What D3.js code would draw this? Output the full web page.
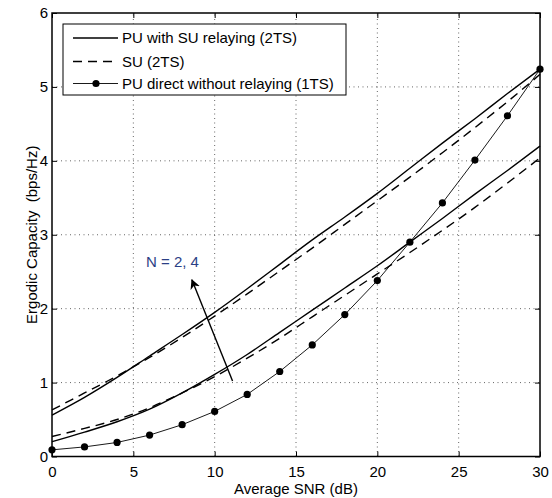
<!DOCTYPE html>
<html>
<head>
<meta charset="utf-8">
<script src="https://cdn.jsdelivr.net/npm/d3@7"></script>
<style>
  body { margin: 0; background: #fff; }
  svg { display: block; font-family: "Liberation Sans", Arial, sans-serif; }
</style>
</head>
<body>
<div id="chart"></div>
<script>
// values (x in dB, y in bps/Hz)
const snr = [0, 2, 4, 6, 8, 10, 12, 14, 16, 18, 20, 22, 24, 26, 28, 30]
const puRelayN4 = [0.56, 0.80, 1.07, 1.36, 1.65, 1.95, 2.27, 2.60, 2.93, 3.24, 3.56, 3.90, 4.24, 4.57, 4.91, 5.24]
const suN4 = [0.63, 0.86, 1.09, 1.34, 1.61, 1.90, 2.20, 2.51, 2.82, 3.14, 3.46, 3.78, 4.11, 4.45, 4.80, 5.17]
const puRelayN2 = [0.20, 0.33, 0.47, 0.64, 0.86, 1.11, 1.38, 1.68, 1.98, 2.28, 2.58, 2.90, 3.22, 3.55, 3.87, 4.20]
const suN2 = [0.27, 0.38, 0.50, 0.66, 0.86, 1.08, 1.33, 1.60, 1.89, 2.18, 2.47, 2.76, 3.06, 3.37, 3.70, 4.04]
const puDirect = [0.09, 0.13, 0.19, 0.29, 0.43, 0.61, 0.84, 1.15, 1.51, 1.92, 2.38, 2.90, 3.43, 4.01, 4.61, 5.24]

const xTicks = [0, 5, 10, 15, 20, 25, 30]
const yTicks = [0, 1, 2, 3, 4, 5, 6]
const legendLabels = ["PU with SU relaying (2TS)", "SU (2TS)", "PU direct without relaying (1TS)"]
const arrowFrom = [11.1, 1.02], arrowTo = [8.6, 2.39]
const annotation = "N = 2, 4"

const W = 552, H = 498
const m = {left: 52, right: 12, top: 13, bottom: 41.5}

var svg = d3.select("#chart").append("svg").attr("width", W).attr("height", H)

var x = d3.scaleLinear().domain([0, 30]).range([m.left, W - m.right])
var y = d3.scaleLinear().domain([0, 6]).range([H - m.bottom, m.top])

// dotted grid
var grid = svg.append("g").attr("stroke", "#666").attr("stroke-width", 1).attr("stroke-dasharray", "1,3.5")
grid.selectAll(".gx").data(xTicks.slice(1, -1)).enter().append("line")
    .attr("x1", d => x(d)).attr("x2", d => x(d)).attr("y1", y(0)).attr("y2", y(6))
grid.selectAll(".gy").data(yTicks.slice(1, -1)).enter().append("line")
    .attr("y1", d => y(d)).attr("y2", d => y(d)).attr("x1", x(0)).attr("x2", x(30))

// axes (ticks inward, matlab style)
svg.append("g").attr("transform", `translate(0,${y(0)})`)
    .call(d3.axisBottom(x).tickValues(xTicks).tickSizeInner(-5).tickSizeOuter(0).tickPadding(10).tickFormat(d3.format("d")))
svg.append("g").attr("transform", `translate(0,${y(6)})`)
    .call(d3.axisTop(x).tickValues(xTicks).tickSizeInner(-5).tickSizeOuter(0).tickFormat(""))
svg.append("g").attr("transform", `translate(${x(0)},0)`)
    .call(d3.axisLeft(y).tickValues(yTicks).tickSizeInner(-5).tickSizeOuter(0).tickPadding(4).tickFormat(d3.format("d")))
svg.append("g").attr("transform", `translate(${x(30)},0)`)
    .call(d3.axisRight(y).tickValues(yTicks).tickSizeInner(-5).tickSizeOuter(0).tickFormat(""))
svg.selectAll(".domain").remove()
svg.selectAll(".tick line").attr("stroke", "#000")
svg.selectAll(".tick text").attr("font-size", 15).attr("font-family", "Liberation Sans, Arial, sans-serif").attr("fill", "#000")

svg.append("rect").attr("x", x(0)).attr("y", y(6)).attr("width", x(30) - x(0)).attr("height", y(0) - y(6))
    .attr("fill", "none").attr("stroke", "#000").attr("stroke-width", 1.5)

// curves
var line = d3.line().x((d, i) => x(snr[i])).y(d => y(d)).curve(d3.curveMonotoneX)
var series = [
    {v: puRelayN4, dash: null}, {v: suN4, dash: "9,6"},
    {v: puRelayN2, dash: null}, {v: suN2, dash: "9,6"}
]
svg.append("g").selectAll("path").data(series).enter().append("path")
    .attr("d", d => line(d.v)).attr("fill", "none").attr("stroke", "#000")
    .attr("stroke-width", 1.4).attr("stroke-dasharray", d => d.dash)

var lineLin = d3.line().x((d, i) => x(snr[i])).y(d => y(d))
svg.append("path").attr("d", lineLin(puDirect)).attr("fill", "none").attr("stroke", "#000").attr("stroke-width", 0.9)
svg.append("g").selectAll("circle").data(puDirect).enter().append("circle")
    .attr("cx", (d, i) => x(snr[i])).attr("cy", d => y(d)).attr("r", 3.6).attr("fill", "#000")

// arrow + annotation
svg.append("defs").append("marker").attr("id", "ah").attr("viewBox", "0 0 10 10")
    .attr("refX", 9).attr("refY", 5).attr("markerWidth", 10).attr("markerHeight", 10)
    .attr("markerUnits", "userSpaceOnUse").attr("orient", "auto")
    .append("path").attr("d", "M0,0 L10,5 L0,10 L3,5 Z").attr("fill", "#000")
svg.append("line").attr("x1", x(arrowFrom[0])).attr("y1", y(arrowFrom[1]))
    .attr("x2", x(arrowTo[0])).attr("y2", y(arrowTo[1]))
    .attr("stroke", "#000").attr("stroke-width", 1.4).attr("marker-end", "url(#ah)")
svg.append("text").attr("x", 172.5).attr("y", 267).attr("text-anchor", "middle")
    .attr("font-size", 15).attr("fill", "#2b3f86").text(annotation)

// legend
var lg = svg.append("g").attr("transform", "translate(63,24)")
lg.append("rect").attr("width", 283).attr("height", 71).attr("fill", "#fff").attr("stroke", "#000").attr("stroke-width", 1)
var rows = lg.selectAll(".row").data(legendLabels).enter().append("g")
    .attr("transform", (d, i) => `translate(0,${[14, 37.5, 59.5][i]})`)
rows.append("line").attr("x1", 10).attr("x2", 55).attr("stroke", "#000")
    .attr("stroke-width", (d, i) => i == 2 ? 0.9 : 1.4)
    .attr("stroke-dasharray", (d, i) => i == 1 ? "9,6" : null)
rows.filter((d, i) => i == 2).append("circle").attr("cx", 33).attr("r", 3.6).attr("fill", "#000")
rows.append("text").attr("x", 59).attr("dy", "0.36em").attr("font-size", 15).text(d => d)

// axis titles
svg.append("text").attr("x", (x(0) + x(30)) / 2).attr("y", 494).attr("text-anchor", "middle")
    .attr("font-size", 15).text("Average SNR (dB)")
svg.append("text").attr("transform", `translate(37,${(y(0) + y(6)) / 2}) rotate(-90)`)
    .attr("text-anchor", "middle").attr("font-size", 15).attr("xml:space", "preserve")
    .style("white-space", "pre").text("Ergodic Capacity  (bps/Hz)")
</script>
</body>
</html>
